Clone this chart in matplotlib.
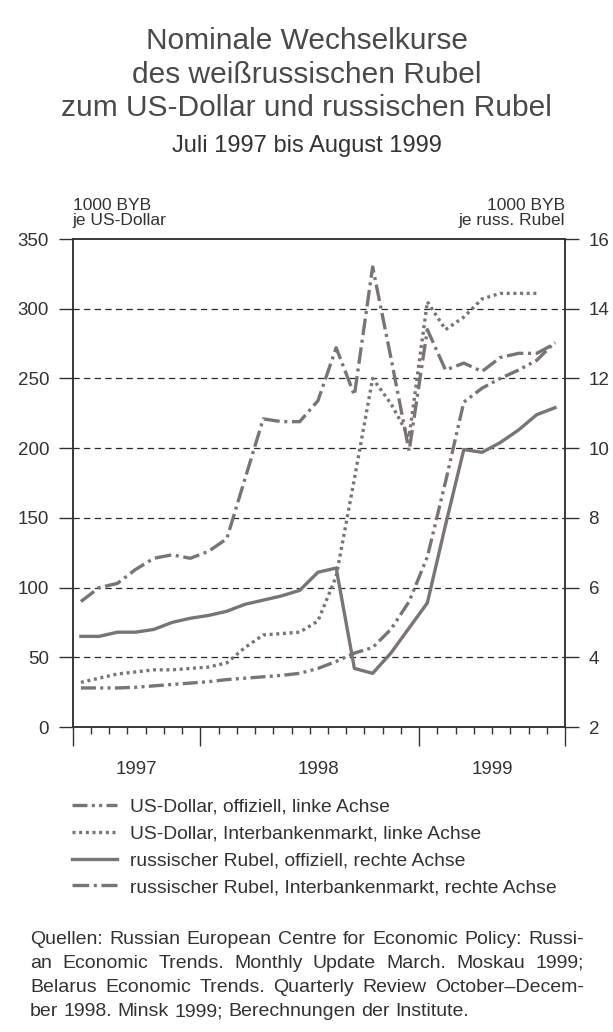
"""
plot.py — Nominale Wechselkurse des weissrussischen Rubel (Juli 1997 bis August 1999).
"""
import numpy as np
import matplotlib
matplotlib.use("Agg")
import matplotlib.pyplot as plt

plt.rcParams["font.family"] = ["Liberation Sans", "DejaVu Sans"]

# ---- Daten (1000 BYB) ---------------------------------------------------------
# Monatswerte, erster Wert Mitte 1997
usd_offiziell = [28, 28, 28, 28.5, 29.5, 30.5, 31.5, 32.5, 34, 35, 36, 37, 38.5, 42,
                 47, 53, 57, 70, 90, 122, 176, 233, 243, 250, 256, 263, 276]
usd_interbank = [32, 35, 38, 39.5, 41, 41, 42, 43, 46, 57, 66, 67, 68, 76,
                 108, 178, 250, 232, 208, 305, 285, 294, 307, 311, 311, 311]
# je russ. Rubel (rechte Achse)
rub_offiziell = [4.6, 4.6, 4.72, 4.72, 4.8, 5.0, 5.12, 5.2, 5.32, 5.52, 5.64, 5.76, 5.92,
                 6.44, 6.56, 3.68, 3.54, 4.12, 4.84, 5.56, 7.8, 9.96, 9.88, 10.16,
                 10.52, 10.96, 11.16]
rub_interbank = [5.6, 6.0, 6.12, 6.52, 6.84, 6.94, 6.84, 7.04, 7.4, 9.12, 10.84, 10.76,
                 10.76, 11.36, 12.88, 11.52, 15.2, 12.6, 9.92, 13.4, 12.24, 12.44, 12.2,
                 12.6, 12.72, 12.72, 13.0]

jahre = ["1997", "1998", "1999"]
jahr_pos = [3.5, 13.5, 23.0]          # Monate ab linker Achse
links_ticks = [0, 50, 100, 150, 200, 250, 300, 350]
rechts_ticks = [2, 4, 6, 8, 10, 12, 14, 16]

labels = [
    "US-Dollar, offiziell, linke Achse",
    "US-Dollar, Interbankenmarkt, linke Achse",
    "russischer Rubel, offiziell, rechte Achse",
    "russischer Rubel, Interbankenmarkt, rechte Achse",
]

quelle = [
    "Quellen: Russian European Centre for Economic Policy: Russi-",
    "an Economic Trends. Monthly Update March. Moskau 1999;",
    "Belarus Economic Trends. Quarterly Review October\u2013Decem-",
    "ber 1998. Minsk 1999; Berechnungen der Institute.",
]

# ---- Stil --------------------------------------------------------------------
LINE = "#7b7477"
TXT = "#333333"
LW = 2.4

W, H = 613, 1032
fig = plt.figure(figsize=(W / 100, H / 100), dpi=100)
fig.patch.set_facecolor("white")

x0, x1, yb, yt = 72.7, 565, 727, 239
ax = fig.add_axes([x0 / W, 1 - yb / H, (x1 - x0) / W, (yb - yt) / H])
ax2 = ax.twinx()

xm = np.arange(len(usd_offiziell)) + 0.45

l1, = ax.plot(xm, usd_offiziell, color=LINE, lw=LW, dashes=(4.5, 1.3, 0.9, 1.3, 0.9, 1.3))
l2, = ax.plot(xm[:len(usd_interbank)], usd_interbank, color=LINE, lw=LW, dashes=(0.9, 1.1))
l3, = ax2.plot(xm, rub_offiziell, color=LINE, lw=LW)
l4, = ax2.plot(xm, rub_interbank, color=LINE, lw=LW, dashes=(5, 1.4, 0.9, 1.4))

for v in links_ticks[1:-1]:
    ax.axhline(v, color="#2a2a2a", lw=0.9, dashes=(5, 3.5), zorder=0)

ax.set_xlim(0, 27)
ax.set_ylim(0, 350)
ax2.set_ylim(2, 16)
ax.set_yticks(links_ticks)
ax2.set_yticks(rechts_ticks)
ax.set_xticks([0, 7, 19, 27])
ax.set_xticks(np.arange(1, 27), minor=True)
ax.set_xticklabels([])
ax.tick_params(axis="x", which="major", direction="out", length=14, width=1, color=TXT)
ax.tick_params(axis="x", which="minor", direction="out", length=5, width=1, color=TXT)
ax.tick_params(axis="y", direction="out", length=10, width=1, color=TXT,
               labelsize=13.5, labelcolor=TXT, pad=7)
ax2.tick_params(axis="y", direction="out", length=10, width=1, color=TXT,
                labelsize=13.5, labelcolor=TXT, pad=7)
for a in (ax, ax2):
    for s in a.spines.values():
        s.set_color(TXT)
        s.set_linewidth(1.1)

for j, p in zip(jahre, jahr_pos):
    ax.text(p, -0.087, j, transform=ax.get_xaxis_transform(), ha="center", va="center",
            fontsize=13.5, color=TXT)

ax.text(0, 1.022, "1000 BYB\nje US-Dollar", transform=ax.transAxes, ha="left",
        va="bottom", fontsize=12.5, color=TXT, linespacing=1.05)
ax.text(1, 1.022, "1000 BYB\nje russ. Rubel", transform=ax.transAxes, ha="right",
        va="bottom", fontsize=12.5, color=TXT, linespacing=1.05, multialignment="right")

# ---- Titel -------------------------------------------------------------------
for t, yy in zip(["Nominale Wechselkurse", "des wei\u00dfrussischen Rubel",
                  "zum US-Dollar und russischen Rubel"], [41, 75, 108]):
    fig.text(0.5, 1 - yy / H, t, ha="center", va="center", fontsize=21.5, color="#4a4a4a")
fig.text(0.5, 1 - 146 / H, "Juli 1997 bis August 1999", ha="center", va="center",
         fontsize=17, color="#333333")

# ---- Legende -----------------------------------------------------------------
fig.legend([l1, l2, l3, l4], labels, loc="upper left",
           bbox_to_anchor=(55 / W, 1 - 781 / H), frameon=False, fontsize=13.9,
           handlelength=2.3, handletextpad=0.7, labelspacing=0.48,
           labelcolor=TXT)

# ---- Quellen (Blocksatz) -----------------------------------------------------
renderer = fig.canvas.get_renderer()
left, right = 30, 584
FS_Q = 14
for k, zeile in enumerate(quelle):
    yy = 1 - (939 + k * 24.3) / H
    words = zeile.split(" ")
    objs = [fig.text(0, yy, w, fontsize=FS_Q, color=TXT, va="center", ha="left")
            for w in words]
    widths = [o.get_window_extent(renderer).width for o in objs]
    if k < len(quelle) - 1:
        gap = (right - left - sum(widths)) / (len(words) - 1)
    else:
        gap = FS_Q * 0.278 * 100 / 72
    xp = left
    for o, wd in zip(objs, widths):
        o.set_x(xp / W)
        xp += wd + gap

fig.savefig("out.png", dpi=100, facecolor="white")
